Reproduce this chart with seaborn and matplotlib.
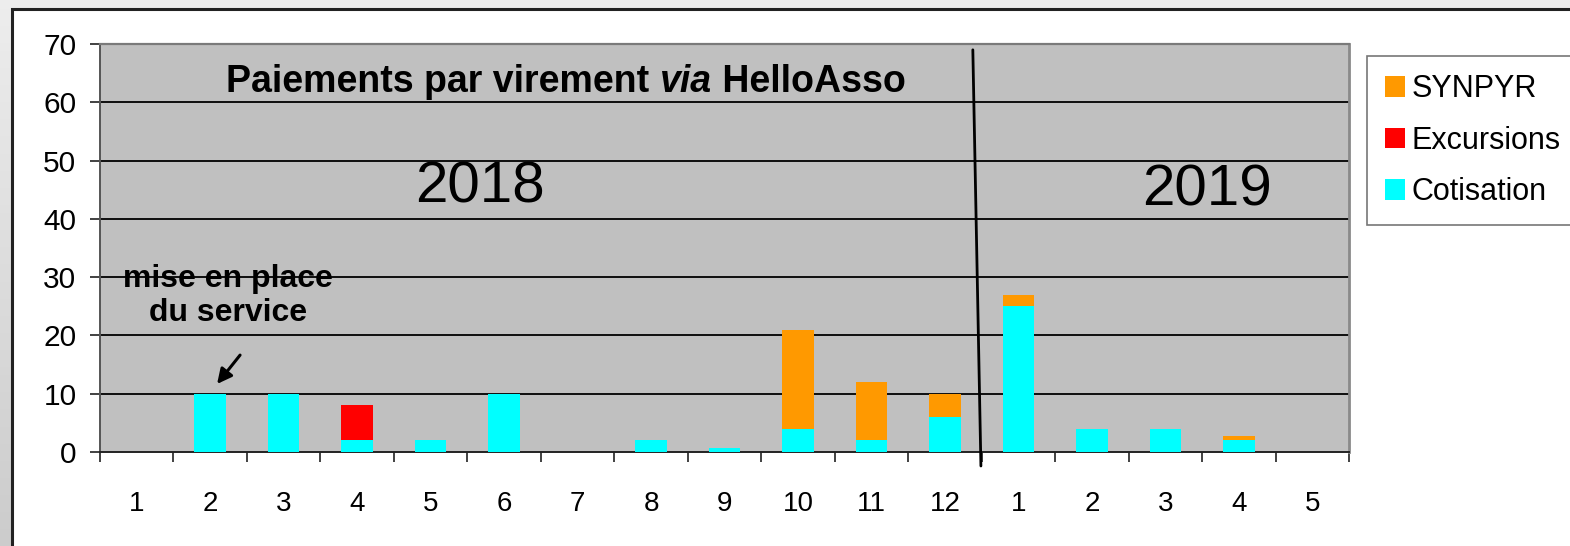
import numpy as np
import pandas as pd
import matplotlib
matplotlib.use("Agg")
import matplotlib.pyplot as plt
from matplotlib.patches import Rectangle
from matplotlib.ticker import FixedLocator
import seaborn as sns

# ---- data ----
periods = ["2018-01", "2018-02", "2018-03", "2018-04", "2018-05", "2018-06",
           "2018-07", "2018-08", "2018-09", "2018-10", "2018-11", "2018-12",
           "2019-01", "2019-02", "2019-03", "2019-04", "2019-05"]
month_labels = ["1", "2", "3", "4", "5", "6", "7", "8", "9", "10", "11", "12",
                "1", "2", "3", "4", "5"]
cotisation = [0, 10, 10, 2, 2, 10, 0, 2, 0.7, 4, 2, 6, 25, 4, 4, 2, 0]
excursions = [0, 0, 0, 6, 0, 0, 0, 0, 0, 0, 0, 0, 0, 0, 0, 0, 0]
synpyr = [0, 0, 0, 0, 0, 0, 0, 0, 0, 17, 10, 4, 2, 0, 0, 0.8, 0]

series_names = ["SYNPYR", "Excursions", "Cotisation"]
series_colors = {"SYNPYR": "#FF9900", "Excursions": "#FF0000", "Cotisation": "#00FFFF"}

df = pd.DataFrame({"period": periods, "Cotisation": cotisation,
                   "Excursions": excursions, "SYNPYR": synpyr})
df["cum_cot"] = df["Cotisation"]
df["cum_exc"] = df["Cotisation"] + df["Excursions"]
df["cum_syn"] = df["cum_exc"] + df["SYNPYR"]

sns.set_style("white")
plt.rcParams["font.family"] = ["Liberation Sans", "DejaVu Sans"]
plt.rcParams["text.color"] = "black"
plt.rcParams["xtick.color"] = "#333333"
plt.rcParams["ytick.color"] = "#333333"
plt.rcParams["xtick.labelcolor"] = "black"
plt.rcParams["ytick.labelcolor"] = "black"

W, H = 1570, 546
fig = plt.figure(figsize=(W / 100, H / 100), dpi=100)

# background gradient (outer slide) + white chart frame
grad = np.linspace(0.93, 0.80, 64).reshape(-1, 1) * np.ones((1, 8))
bg = fig.add_axes([0, 0, 1, 1], zorder=-10)
bg.imshow(np.dstack([grad, grad, grad]), aspect="auto", extent=[0, 1, 0, 1])
bg.set_axis_off()
fig.patches.append(Rectangle((12 / W, -0.05), 1.05, 1 - 9 / H + 0.05,
                             transform=fig.transFigure, facecolor="white",
                             edgecolor="#222222", linewidth=2.2, zorder=-5))

ax = fig.add_axes([100 / W, 1 - 452 / H, 1249 / W, 408 / H])
ax.set_facecolor("#C0C0C0")

for col, name in [("cum_syn", "SYNPYR"), ("cum_exc", "Excursions"), ("cum_cot", "Cotisation")]:
    sns.barplot(data=df, x="period", y=col, order=periods, color=series_colors[name],
                width=0.43, saturation=1, ax=ax, label=name, zorder=3,
                linewidth=0, edgecolor="none")
if ax.legend_ is not None:
    ax.legend_.remove()

ax.set_xlim(-0.5, len(periods) - 0.5)
ax.set_ylim(0, 70)
ax.set_yticks(range(0, 71, 10))
ax.set_xticks(range(len(periods)))
ax.set_xticklabels(month_labels)
ax.xaxis.set_minor_locator(FixedLocator(np.arange(-0.5, len(periods), 1.0)))
ax.tick_params(axis="x", which="major", bottom=True, length=0, pad=28, labelsize=20,
               labelcolor="black")
ax.tick_params(axis="x", which="minor", bottom=True, length=7, width=1.3, color="#333333")
ax.tick_params(axis="y", left=True, length=7, width=1.3, color="#333333", pad=10,
               labelsize=21.5, labelcolor="black")
ax.set_xlabel("")
ax.set_ylabel("")

for y in range(10, 70, 10):
    ax.axhline(y, color="black", linewidth=1.3, zorder=1)

ax.spines["left"].set_color("#555555")
ax.spines["left"].set_linewidth(1.4)
ax.spines["bottom"].set_color("#222222")
ax.spines["bottom"].set_linewidth(1.4)
ax.spines["top"].set_color("#7a7a7a")
ax.spines["top"].set_linewidth(1.6)
ax.spines["right"].set_color("#8a8a8a")
ax.spines["right"].set_linewidth(2)

# year divider
ax.plot([11.38, 11.49], [69, -2.4], color="black", linewidth=2, clip_on=False, zorder=5)

# title with italic "via"
fig.canvas.draw()
r = fig.canvas.get_renderer()
tfs = 27
t1 = ax.text(0, 0, "Paiements par virement ", fontsize=tfs, fontweight="bold",
             ha="left", va="center", zorder=6)
t2 = ax.text(0, 0, "via", fontsize=tfs, fontweight="bold", style="italic",
             ha="left", va="center", zorder=6)
t3 = ax.text(0, 0, " HelloAsso", fontsize=tfs, fontweight="bold",
             ha="left", va="center", zorder=6)
w1 = t1.get_window_extent(r).width
w2 = t2.get_window_extent(r).width
w3 = t3.get_window_extent(r).width
total = w1 + w2 + w3
cx_px = 566
y_data = 63.5
x0 = cx_px - total / 2
inv = ax.transData.inverted()
for t, xp in [(t1, x0), (t2, x0 + w1), (t3, x0 + w1 + w2)]:
    xd = inv.transform((xp, 0))[0]
    t.set_position((xd, y_data))

ax.text(4.67, 45.3, "2018", fontsize=42, ha="center", va="center", zorder=6)
ax.text(14.57, 44.8, "2019", fontsize=42, ha="center", va="center", zorder=6)
ax.text(1.24, 26.8, "mise en place\ndu service", fontsize=23, fontweight="bold",
        ha="center", va="center", linespacing=1.18, zorder=6)
ax.annotate("", xy=(1.07, 11.3), xytext=(1.43, 17.0),
            arrowprops=dict(arrowstyle="-|>", color="black", lw=2.2, mutation_scale=22),
            zorder=6)

# legend
handles, labels = ax.get_legend_handles_labels()
order = [labels.index(n) for n in series_names]
leg = fig.legend([handles[i] for i in order], [labels[i] for i in order],
                 loc="upper left", bbox_to_anchor=(1367 / W, 1 - 56 / H),
                 fontsize=22, frameon=True, fancybox=False, handlelength=0.65,
                 handleheight=0.65, handletextpad=0.2, labelspacing=0.7,
                 borderpad=0.6, borderaxespad=0)
leg.get_frame().set_edgecolor("#555555")
leg.get_frame().set_linewidth(1.2)
for txt in leg.get_texts():
    txt.set_color("black")

fig.savefig("out.png", dpi=100)
